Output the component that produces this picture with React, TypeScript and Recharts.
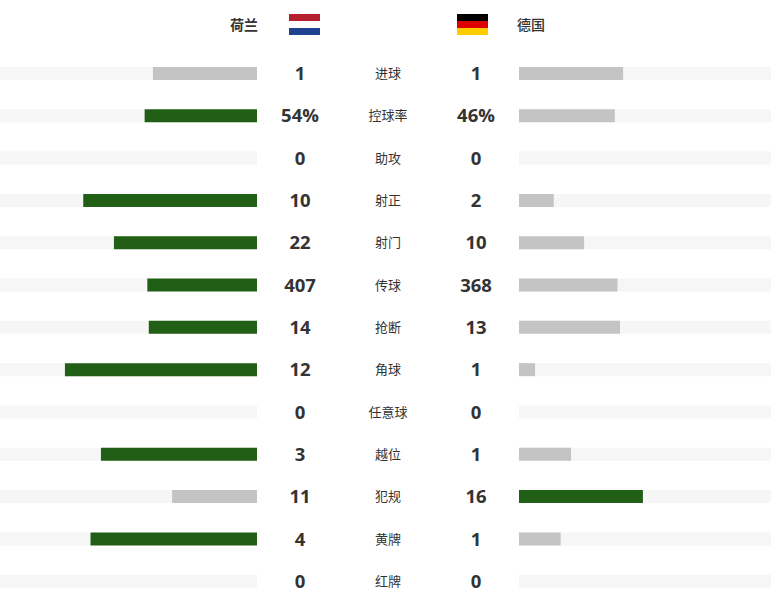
import { BarChart, Bar, XAxis, YAxis, Cell } from "recharts";

const HOME_TEAM = "荷兰";
const AWAY_TEAM = "德国";

const stats = ["进球", "控球率", "助攻", "射正", "射门", "传球", "抢断", "角球", "任意球", "越位", "犯规", "黄牌", "红牌"];
const homeLabels = ["1", "54%", "0", "10", "22", "407", "14", "12", "0", "3", "11", "4", "0"];
const awayLabels = ["1", "46%", "0", "2", "10", "368", "13", "1", "0", "1", "16", "1", "0"];
// share of each stat, in percent
const homeShare = [50, 54, 0, 83.5, 68.75, 52.7, 52, 92.3, 0, 75, 40.8, 80, 0];
const awayShare = [50, 46, 0, 16.7, 31.25, 47.3, 48.5, 7.7, 0, 25, 59.5, 20, 0];

const HOME_MAX = 123.5;
const AWAY_MAX = 121;

const data = stats.map((stat, i) => ({
  stat,
  home: homeShare[i],
  away: awayShare[i],
  homeTrack: HOME_MAX,
  awayTrack: AWAY_MAX,
}));

const GREEN = "#225f16";
const GREY = "#c4c4c4";
const TRACK = "#f6f6f6";
const TEXT = "#333333";
const NUM_FONT = "'Open Sans', 'Noto Sans CJK SC', sans-serif";
const CJK_FONT = "'Noto Sans CJK SC', sans-serif";

const CHART_TOP = 52.3;
const CHART_HEIGHT = 550;
const BAR_SIZE = 13;

function CenterTick({ x, y, payload }: any) {
  const i = stats.indexOf(payload.value);
  return (
    <g>
      <text x={x + 35} y={y + 7} textAnchor="middle" fontFamily={NUM_FONT} fontSize={18.5} fontWeight={700} fill={TEXT}>
        {homeLabels[i]}
      </text>
      <text x={x + 123} y={y + 5} textAnchor="middle" fontFamily={CJK_FONT} fontSize={13} fill={TEXT}>
        {stats[i]}
      </text>
      <text x={x + 211} y={y + 7} textAnchor="middle" fontFamily={NUM_FONT} fontSize={18.5} fontWeight={700} fill={TEXT}>
        {awayLabels[i]}
      </text>
    </g>
  );
}

function Flag({ left, colors }: { left: number; colors: string[] }) {
  return (
    <div style={{ position: "absolute", left, top: 14, width: 31, height: 21 }}>
      {colors.map((c) => (
        <div key={c} style={{ height: 7, background: c }} />
      ))}
    </div>
  );
}

export default function App() {
  return (
    <div style={{ position: "absolute", left: 0, top: 0, width: 771, height: 608, background: "#fff", overflow: "hidden" }}>
      <div style={{ position: "absolute", right: 771 - 258, top: 14, fontFamily: CJK_FONT, fontSize: 14, fontWeight: 700, color: TEXT, lineHeight: "20px" }}>
        {HOME_TEAM}
      </div>
      <Flag left={289} colors={["#b5202e", "#ffffff", "#20418f"]} />
      <Flag left={457} colors={["#000000", "#dd0000", "#ffcc00"]} />
      <div style={{ position: "absolute", left: 517, top: 14, fontFamily: CJK_FONT, fontSize: 14, fontWeight: 500, color: TEXT, lineHeight: "20px" }}>
        {AWAY_TEAM}
      </div>

      <div style={{ position: "absolute", left: 0, top: CHART_TOP }}>
        <BarChart layout="vertical" width={520} height={CHART_HEIGHT} data={data} margin={{ top: 0, right: 0, bottom: 0, left: 0 }} barSize={BAR_SIZE} barGap={-BAR_SIZE}>
          <XAxis type="number" hide reversed domain={[0, HOME_MAX]} />
          <YAxis type="category" dataKey="stat" orientation="right" width={263} axisLine={false} tickLine={false} interval={0} tick={<CenterTick />} />
          <Bar dataKey="homeTrack" fill={TRACK} isAnimationActive={false} />
          <Bar dataKey="home" isAnimationActive={false}>
            {data.map((d) => (
              <Cell key={d.stat} fill={d.home > d.away ? GREEN : GREY} />
            ))}
          </Bar>
        </BarChart>
      </div>

      <div style={{ position: "absolute", left: 519, top: CHART_TOP }}>
        <BarChart layout="vertical" width={252} height={CHART_HEIGHT} data={data} margin={{ top: 0, right: 0, bottom: 0, left: 0 }} barSize={BAR_SIZE} barGap={-BAR_SIZE}>
          <XAxis type="number" hide domain={[0, AWAY_MAX]} />
          <YAxis type="category" dataKey="stat" hide />
          <Bar dataKey="awayTrack" fill={TRACK} isAnimationActive={false} />
          <Bar dataKey="away" isAnimationActive={false}>
            {data.map((d) => (
              <Cell key={d.stat} fill={d.away > d.home ? GREEN : GREY} />
            ))}
          </Bar>
        </BarChart>
      </div>
    </div>
  );
}
